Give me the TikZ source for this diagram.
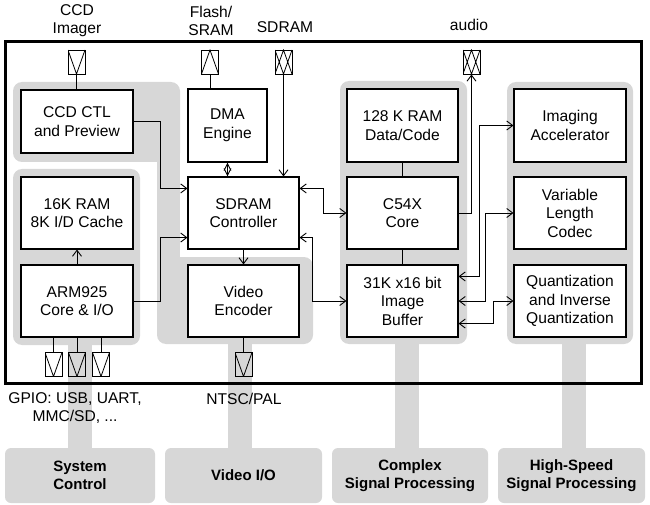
\documentclass[tikz,border=0pt]{standalone}
\usepackage{fontspec}
\setmainfont{Liberation Sans}
\usetikzlibrary{arrows.meta}
\definecolor{regiongray}{RGB}{215,215,215}
\begin{document}
\begin{tikzpicture}[x=1pt,y=-1pt,
  txt/.style={font=\fontsize{15.6}{18.5}\selectfont, align=center, inner sep=0pt},
  blk/.style={txt, draw, line width=1.1pt, fill=white},
  catbox/.style={fill=regiongray, rounded corners=6pt, align=center, inner sep=0pt,
     font=\bfseries\fontsize{15}{18.5}\selectfont, minimum height=55pt},
  region/.style={fill=regiongray},
  pad/.style={draw, line width=0.9pt, minimum width=17pt, minimum height=24pt, inner sep=0pt},
  padv/.style={pad, path picture={\draw[line width=0.8pt] (path picture bounding box.north west) -- (path picture bounding box.south) -- (path picture bounding box.north east);}},
  padup/.style={pad, path picture={\draw[line width=0.8pt] (path picture bounding box.south west) -- (path picture bounding box.north) -- (path picture bounding box.south east);}},
  padx/.style={pad, path picture={\draw[line width=0.8pt] (path picture bounding box.north west) -- (path picture bounding box.south) -- (path picture bounding box.north east)
      (path picture bounding box.south west) -- (path picture bounding box.north) -- (path picture bounding box.south east);}},
  conn/.style={line width=0.9pt},
  >={Straight Barb[length=6pt,width=9pt]}
]
\useasboundingbox (0,0) rectangle (650,505);

% ---- gray regions ----
% Video I/O
\fill[region, rounded corners=9pt] (13,82) rectangle (180,162);
\fill[region] (157,95) rectangle (180,330);
\fill[region, rounded corners=9pt] (157,257) rectangle (313,344);
\fill[region] (228,330) rectangle (252,450);
% System control
\fill[region, rounded corners=9pt] (13,169) rectangle (140,345);
\fill[region] (68,330) rectangle (92,450);
% Complex signal processing
\fill[region, rounded corners=9pt] (340,81) rectangle (467,344);
\fill[region] (395,330) rectangle (419,450);
% High-speed signal processing
\fill[region, rounded corners=9pt] (507,82) rectangle (633,344);
\fill[region] (562,330) rectangle (586,450);

% ---- category boxes ----
\node[catbox, minimum width=150pt] (csys) at (80,475.5) {System\\Control};
\node[catbox, minimum width=157pt] (cvid) at (243.5,475.5) {Video I/O};
\node[catbox, minimum width=156pt] (ccsp) at (410,475.5) {Complex\\Signal Processing};
\node[catbox, minimum width=147pt] (chsp) at (571.5,475.5) {High-Speed\\Signal Processing};

% ---- chip frame ----
\draw[line width=3pt] (5,41.5) rectangle (641.5,383);

% ---- blocks ----
\node[blk, minimum width=112pt, minimum height=63pt] (ccd) at (77,121.5) {CCD CTL\\and Preview};
\node[blk, minimum width=112pt, minimum height=72pt] (ram16) at (77,213) {16K RAM\\8K I/D Cache};
\node[blk, minimum width=112pt, minimum height=72pt] (arm) at (77,301) {ARM925\\Core \& I/O};
\node[blk, minimum width=79pt, minimum height=73pt] (dma) at (227.5,125.5) {DMA\\Engine};
\node[blk, minimum width=111pt, minimum height=72pt] (sdram) at (243.5,213) {SDRAM\\Controller};
\node[blk, minimum width=111pt, minimum height=72pt] (venc) at (243.5,301) {Video\\Encoder};
\node[blk, minimum width=111pt, minimum height=73pt] (ram128) at (402.5,125.5) {128 K RAM\\Data/Code};
\node[blk, minimum width=111pt, minimum height=72pt] (c54) at (402.5,213) {C54X\\Core};
\node[blk, minimum width=111pt, minimum height=72pt] (ibuf) at (402.5,301) {31K x16 bit\\Image\\Buffer};
\node[blk, minimum width=112pt, minimum height=73pt] (imgacc) at (570,125.5) {Imaging\\Accelerator};
\node[blk, minimum width=112pt, minimum height=72pt] (vlc) at (570,213) {Variable\\Length\\Codec};
\node[blk, minimum width=112pt, minimum height=72pt] (quant) at (570,301) {Quantization\\and Inverse\\Quantization};

% ---- pads ----
\node[padv] (pccd) at (76.5,62) {};
\node[padup] (pflash) at (210,62) {};
\node[padx] (psdram) at (283.5,62) {};
\node[padx] (paudio) at (471.5,62) {};
\node[padv] (pg1) at (53.5,364.5) {};
\node[padv] (pg2) at (77,364.5) {};
\node[padv] (pg3) at (101,364.5) {};
\node[padv] (pvid) at (243.5,364.5) {};

% ---- external labels ----
\node[txt] (lccd) at (77,20.5) {CCD\\Imager};
\node[txt] (lflash) at (211,21) {Flash/\\SRAM};
\node[txt] (lsdram) at (285,27.3) {SDRAM};
\node[txt] (laudio) at (469,25) {audio};
\node[txt] (lgpio) at (75,408) {GPIO: USB, UART,\\MMC/SD, ...};
\node[txt] (lntsc) at (244,398.5) {NTSC/PAL};

% ---- connectors ----
\draw[conn] (pccd.south) -- (pccd.south |- ccd.north);
\draw[conn] (pflash.south) -- (pflash.south |- dma.north);
\draw[conn,->] (psdram.south) -- (psdram.south |- sdram.north);
\draw[conn,->] (c54.east) -| (paudio.south);

\draw[conn,->] (ccd.east) -- ++(27,0) |- ([yshift=-12pt]sdram.north west);
\draw[conn,->] (arm.east) -- ++(27,0) |- ([yshift=12pt]sdram.south west);
\draw[conn,->] (arm.north) -- (ram16.south);
\draw[conn,->] (sdram.south) -- (venc.north);
\draw[conn,{Straight Barb[length=7pt,width=7pt]}-{Straight Barb[length=7pt,width=7pt]}] (dma.south) -- (dma.south |- sdram.north);

\draw[conn,<->] ([yshift=-12pt]sdram.north east) -- ++(24,0) |- (c54.west);
\draw[conn,<->] ([yshift=12pt]sdram.south east) -- ++(13,0) |- (ibuf.west);

\draw[conn] (ram128.south) -- (c54.north);
\draw[conn] (c54.south) -- (ibuf.north);

\draw[conn,<->] ([yshift=-12pt]ibuf.north east) -- ++(21,0) |- (imgacc.west);
\draw[conn,<->] (ibuf.east) -- ++(27,0) |- (vlc.west);
\draw[conn,<->] ([yshift=14pt]ibuf.south east) -- ++(35,0) |- (quant.west);

\draw[conn] (pg1.north |- arm.south) -- (pg1.north);
\draw[conn] (pg2.north |- arm.south) -- (pg2.north);
\draw[conn] (pg3.north |- arm.south) -- (pg3.north);
\draw[conn] (venc.south) -- (pvid.north);
\end{tikzpicture}
\end{document}
